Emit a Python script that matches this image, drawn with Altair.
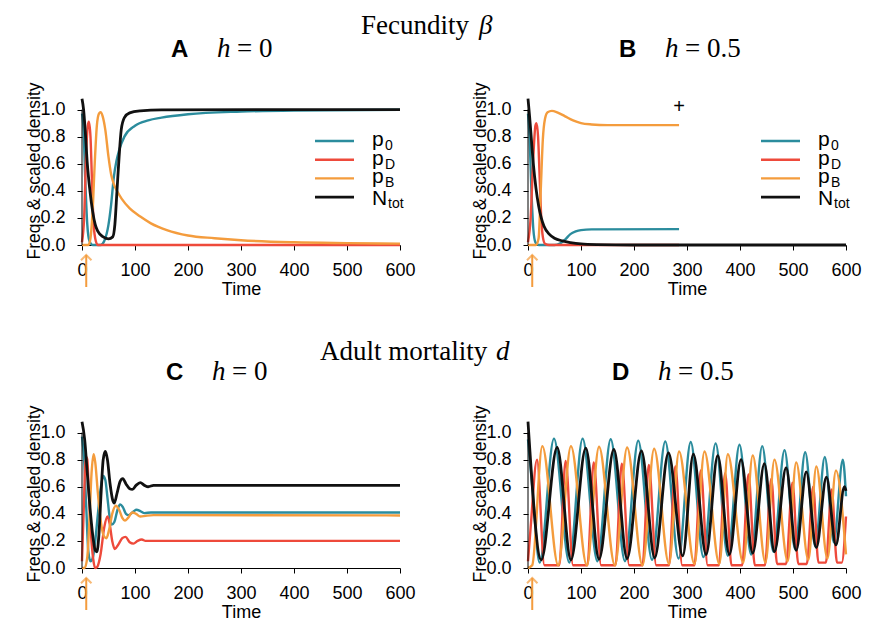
import altair as alt
import pandas as pd

SERIES = ["p0", "pD", "pB", "Ntot"]
COLORS = {"p0": "#2b8c9d", "pD": "#ee4a3b", "pB": "#f49c3d", "Ntot": "#111111"}
WIDTHS = {"p0": 2.4, "pD": 2.4, "pB": 2.4, "Ntot": 2.8}
X_TICKS = [0, 100, 200, 300, 400, 500, 600]
Y_TICKS = [0.0, 0.2, 0.4, 0.6, 0.8, 1.0]

# ---------------- Panel A : fecundity, h = 0 ----------------
A_p0_t = [0, 3, 6, 10, 14, 20, 35, 42, 50, 55, 60, 65, 70, 80, 100, 125, 150, 200, 300, 400, 600]
A_p0_v = [0.97, 0.85, 0.5, 0.15, 0.03, 0.0, 0.0, 0.03, 0.15, 0.3, 0.5, 0.62, 0.7, 0.8, 0.88, 0.92, 0.94, 0.965, 0.985, 0.993, 0.998]
A_pD_t = [0, 4, 8, 11, 13, 16, 19, 22, 26, 30, 600]
A_pD_v = [0.02, 0.2, 0.7, 0.88, 0.91, 0.8, 0.45, 0.15, 0.03, 0.0, 0.0]
A_pB_t = [0, 12, 16, 20, 24, 28, 32, 35, 39, 44, 50, 55, 60, 66, 75, 90, 110, 130, 160, 200, 250, 300, 400, 500, 600]
A_pB_v = [0.0, 0.0, 0.05, 0.25, 0.6, 0.88, 0.97, 0.98, 0.95, 0.85, 0.65, 0.52, 0.45, 0.4, 0.34, 0.27, 0.21, 0.16, 0.11, 0.07, 0.05, 0.035, 0.02, 0.014, 0.01]
A_N_t = [0, 3, 6, 10, 15, 20, 25, 30, 40, 50, 58, 62, 66, 70, 74, 80, 90, 110, 150, 600]
A_N_v = [1.08, 1.0, 0.85, 0.6, 0.4, 0.25, 0.15, 0.1, 0.06, 0.045, 0.06, 0.15, 0.4, 0.65, 0.85, 0.94, 0.975, 0.99, 0.998, 1.0]

# ---------------- Panel B : fecundity, h = 0.5 ----------------
B_p0_t = [0, 3, 6, 10, 14, 20, 50, 60, 70, 80, 90, 100, 120, 285]
B_p0_v = [0.97, 0.8, 0.45, 0.12, 0.02, 0.0, 0.0, 0.01, 0.04, 0.08, 0.1, 0.11, 0.115, 0.117]
B_pD_t = [0, 5, 10, 14, 16, 19, 22, 25, 28, 32, 40, 285]
B_pD_v = [0.02, 0.2, 0.65, 0.88, 0.9, 0.8, 0.5, 0.2, 0.06, 0.01, 0.0, 0.0]
B_pB_t = [0, 15, 20, 24, 28, 32, 37, 45, 55, 70, 85, 100, 120, 150, 285]
B_pB_v = [0.0, 0.0, 0.05, 0.4, 0.78, 0.93, 0.98, 0.99, 0.98, 0.95, 0.92, 0.9, 0.89, 0.885, 0.885]
B_N_t = [0, 3, 6, 10, 15, 20, 25, 30, 40, 50, 65, 80, 100, 130, 200, 600]
B_N_v = [1.08, 0.95, 0.8, 0.6, 0.42, 0.29, 0.2, 0.14, 0.08, 0.05, 0.03, 0.018, 0.008, 0.003, 0.0, 0.0]
B_plus_t = [285]
B_plus_v = [1.02]

# ---------------- Panel C : adult mortality, h = 0 ----------------
C_p0_t = [0, 4, 8, 12, 16, 20, 25, 30, 35, 40, 44, 48, 52, 56, 61, 67, 72, 77, 83, 88, 95, 103, 110, 118, 130, 600]
C_p0_v = [0.97, 0.8, 0.45, 0.12, 0.05, 0.07, 0.2, 0.4, 0.58, 0.68, 0.65, 0.52, 0.38, 0.32, 0.34, 0.43, 0.47, 0.45, 0.4, 0.39, 0.41, 0.43, 0.42, 0.405, 0.41, 0.41]
C_pD_t = [0, 3, 6, 8, 10, 13, 17, 21, 25, 29, 35, 42, 48, 52, 57, 62, 68, 76, 82, 90, 97, 105, 113, 120, 600]
C_pD_v = [0.05, 0.4, 0.75, 0.82, 0.8, 0.55, 0.25, 0.07, 0.0, 0.01, 0.1, 0.3, 0.38, 0.33, 0.2, 0.14, 0.17, 0.22, 0.23, 0.19, 0.18, 0.2, 0.21, 0.2, 0.2]
C_pB_t = [0, 5, 10, 14, 18, 22, 25, 30, 36, 42, 46, 51, 57, 64, 70, 76, 81, 87, 95, 102, 110, 120, 135, 600]
C_pB_v = [0.0, 0.0, 0.08, 0.35, 0.7, 0.84, 0.78, 0.55, 0.33, 0.23, 0.22, 0.28, 0.4, 0.46, 0.43, 0.37, 0.35, 0.37, 0.41, 0.4, 0.38, 0.385, 0.39, 0.388]
C_N_t = [0, 5, 10, 15, 20, 25, 28, 32, 36, 40, 44, 48, 53, 58, 61, 66, 72, 77, 83, 90, 95, 102, 110, 118, 125, 135, 150, 600]
C_N_v = [1.08, 0.95, 0.7, 0.45, 0.25, 0.13, 0.12, 0.25, 0.55, 0.8, 0.86, 0.8, 0.62, 0.5, 0.48, 0.55, 0.64, 0.66, 0.62, 0.585, 0.58, 0.61, 0.63, 0.61, 0.6, 0.61, 0.61, 0.61]

# ---------------- Panel D : adult mortality, h = 0.5 ----------------
D_p0_t = [0, 8, 22, 49, 78, 103, 131, 156, 183, 208, 234, 259, 284, 307, 331, 354, 377, 399, 421, 442, 463, 484, 504, 523, 542, 560, 577, 594, 600]
D_p0_v = [0.95, 0.6, 0.04, 0.955, 0.04, 0.955, 0.05, 0.95, 0.05, 0.94, 0.06, 0.935, 0.07, 0.93, 0.08, 0.92, 0.09, 0.91, 0.1, 0.9, 0.12, 0.87, 0.14, 0.855, 0.16, 0.82, 0.19, 0.8, 0.53]
D_pD_t = [0, 5, 17, 31, 59, 71, 85, 112, 124, 138, 165, 177, 191, 216, 228, 242, 266, 278, 291, 314, 326, 339, 360, 372, 384, 404, 416, 428, 447, 459, 470, 487, 499, 510, 526, 538, 548, 562, 573, 583, 592, 600]
D_pD_v = [0.05, 0.3, 0.8, 0.02, 0.02, 0.79, 0.02, 0.02, 0.78, 0.02, 0.02, 0.77, 0.02, 0.02, 0.76, 0.02, 0.02, 0.75, 0.02, 0.02, 0.72, 0.02, 0.02, 0.7, 0.02, 0.02, 0.69, 0.02, 0.02, 0.66, 0.03, 0.03, 0.63, 0.03, 0.03, 0.6, 0.04, 0.04, 0.58, 0.04, 0.04, 0.38]
D_pB_t = [0, 8, 27, 57, 81, 111, 134, 164, 187, 216, 238, 266, 285, 314, 333, 361, 377, 406, 424, 448, 465, 490, 506, 529, 544, 565, 581, 600]
D_pB_v = [0.0, 0.02, 0.9, 0.02, 0.9, 0.02, 0.895, 0.02, 0.89, 0.02, 0.88, 0.03, 0.86, 0.03, 0.86, 0.03, 0.84, 0.04, 0.83, 0.04, 0.8, 0.05, 0.78, 0.06, 0.75, 0.07, 0.72, 0.1]
D_N_t = [0, 25, 55, 81, 109, 134, 162, 187, 214, 239, 265, 292, 312, 336, 358, 380, 402, 424, 446, 465, 487, 506, 525, 544, 563, 581, 597, 600]
D_N_v = [1.08, 0.06, 0.89, 0.06, 0.885, 0.065, 0.875, 0.07, 0.865, 0.075, 0.85, 0.09, 0.84, 0.1, 0.83, 0.1, 0.8, 0.11, 0.77, 0.12, 0.74, 0.13, 0.71, 0.15, 0.67, 0.17, 0.6, 0.57]

ARROW_T = [8]   # time at which the orange arrow points

W, H = 318, 149
SANS = "Liberation Sans"
SERIF = "Liberation Serif"

X_SCALE = alt.Scale(domain=[0, 600], nice=False)
Y_SCALE = alt.Scale(domain=[0, 1.1], nice=False)
X_AXIS = alt.Axis(values=X_TICKS, title="Time", grid=False,
                  tickSize=5, labelPadding=11, titlePadding=1,
                  labelFont=SANS, labelFontSize=18, labelColor="black",
                  titleFont=SANS, titleFontSize=18, titleFontWeight="normal",
                  titleColor="black", domainColor="black", tickColor="black",
                  labelFlush=False, labelOverlap=False)
Y_AXIS = alt.Axis(values=Y_TICKS, format=".1f", title="Freqs & scaled density",
                  grid=False, domain=False, tickSize=5, labelPadding=12,
                  titlePadding=-4, labelFont=SANS, labelFontSize=18,
                  labelColor="black", titleFont=SANS, titleFontSize=17.5,
                  titleFontWeight="normal", titleColor="black",
                  tickColor="black", labelOverlap=False)


def line_layer(t, v, name):
    df = pd.DataFrame({"time": t, "value": v})
    return alt.Chart(df).mark_line(
        interpolate="monotone", color=COLORS[name], strokeWidth=WIDTHS[name]
    ).encode(
        x=alt.X("time:Q", scale=X_SCALE, axis=X_AXIS),
        y=alt.Y("value:Q", scale=Y_SCALE, axis=Y_AXIS),
    )


def text_layer(s, x, y, size, font=SANS, style="normal", weight="normal", color="black", align="left"):
    return alt.Chart(pd.DataFrame({"s": [s]})).mark_text(
        align=align, baseline="alphabetic", font=font, fontSize=size,
        fontStyle=style, fontWeight=weight, color=color
    ).encode(x=alt.value(x), y=alt.value(y), text="s:N")


def legend_layers():
    layers = []
    rows = [("p", "0", "p0"), ("p", "D", "pD"), ("p", "B", "pB"), ("N", "tot", "Ntot")]
    for i, (main, sub, key) in enumerate(rows):
        yy = 45 + i * 18.7
        layers.append(
            alt.Chart(pd.DataFrame({"k": [key]})).mark_rule(
                color=COLORS[key], strokeWidth=WIDTHS[key]
            ).encode(x=alt.value(233), x2=alt.value(272), y=alt.value(yy))
        )
        if main == "p":
            layers.append(text_layer(main, 290, yy + 5, 21))
            layers.append(text_layer(sub, 303, yy + 9, 14))
        else:
            layers.append(text_layer(main, 290, yy + 7.5, 21))
            layers.append(text_layer(sub, 306, yy + 11, 14))
    return layers


def arrow_layers():
    df = pd.DataFrame({"time": ARROW_T})
    shaft = alt.Chart(df).mark_rule(color=COLORS["pB"], strokeWidth=2).encode(
        x=alt.X("time:Q", scale=X_SCALE, axis=X_AXIS), y=alt.value(H + 10), y2=alt.value(H + 42))
    head = alt.Chart(df).mark_point(
        shape="M-1,1L0,0L1,1", filled=False, color=COLORS["pB"], strokeWidth=2, size=110
    ).encode(x=alt.X("time:Q", scale=X_SCALE, axis=X_AXIS), y=alt.value(H + 10))
    return [shaft, head]


def yaxis_line():
    return alt.Chart(pd.DataFrame({"a": [0.0], "b": [1.0]})).mark_rule(color="black", strokeWidth=1).encode(
        x=alt.value(0), y=alt.Y("a:Q", scale=Y_SCALE, axis=Y_AXIS), y2="b:Q")


def panel(data, letter, hval, title_x, legend=False, extra=None, section=None):
    layers = []
    for name in SERIES:
        t, v = data[name]
        layers.append(line_layer(t, v, name))
    layers.append(yaxis_line())
    layers += arrow_layers()
    if legend:
        layers += legend_layers()
    if extra is not None:
        layers += extra
    # panel label: bold letter + italic h + "= value"
    layers.append(text_layer(letter, title_x, -39, 24, weight="bold"))
    layers.append(text_layer("h", title_x + 46, -39, 27, font=SERIF, style="italic"))
    layers.append(text_layer("= " + hval, title_x + 66, -39, 27, font=SERIF))
    if section is not None:
        word, sym, sx, sy, symdx = section
        layers.append(text_layer(word, sx, sy, 27, font=SERIF))
        layers.append(text_layer(sym, sx + symdx, sy, 27, font=SERIF, style="italic"))
    return alt.layer(*layers).properties(width=W, height=H)


plus = alt.Chart(pd.DataFrame({"time": B_plus_t, "value": B_plus_v})).mark_text(
    text="+", fontSize=20, font=SANS, color="black", baseline="middle"
).encode(x=alt.X("time:Q", scale=X_SCALE, axis=X_AXIS), y=alt.Y("value:Q", scale=Y_SCALE, axis=Y_AXIS))

pA = panel({"p0": (A_p0_t, A_p0_v), "pD": (A_pD_t, A_pD_v), "pB": (A_pB_t, A_pB_v), "Ntot": (A_N_t, A_N_v)},
           "A", "0", 89, legend=True, section=("Fecundity", "β", 279, -62, 118))
pB = panel({"p0": (B_p0_t, B_p0_v), "pD": (B_pD_t, B_pD_v), "pB": (B_pB_t, B_pB_v), "Ntot": (B_N_t, B_N_v)},
           "B", "0.5", 91, legend=True, extra=[plus])
pC = panel({"p0": (C_p0_t, C_p0_v), "pD": (C_pD_t, C_pD_v), "pB": (C_pB_t, C_pB_v), "Ntot": (C_N_t, C_N_v)},
           "C", "0", 84, section=("Adult mortality", "d", 238, -59, 176))
pD = panel({"p0": (D_p0_t, D_p0_v), "pD": (D_pD_t, D_pD_v), "pB": (D_pB_t, D_pB_v), "Ntot": (D_N_t, D_N_v)},
           "D", "0.5", 84)

row1 = alt.hconcat(pA, pB, spacing=128, bounds="flush")
row2 = alt.hconcat(pC, pD, spacing=128, bounds="flush")
chart = alt.vconcat(row1, row2, spacing=323, bounds="flush").properties(
    padding={"left": 17, "top": 4, "right": 5, "bottom": 5}
).configure_view(stroke=None)

chart.save("out.html", embed_options={"renderer": "svg", "actions": False})
